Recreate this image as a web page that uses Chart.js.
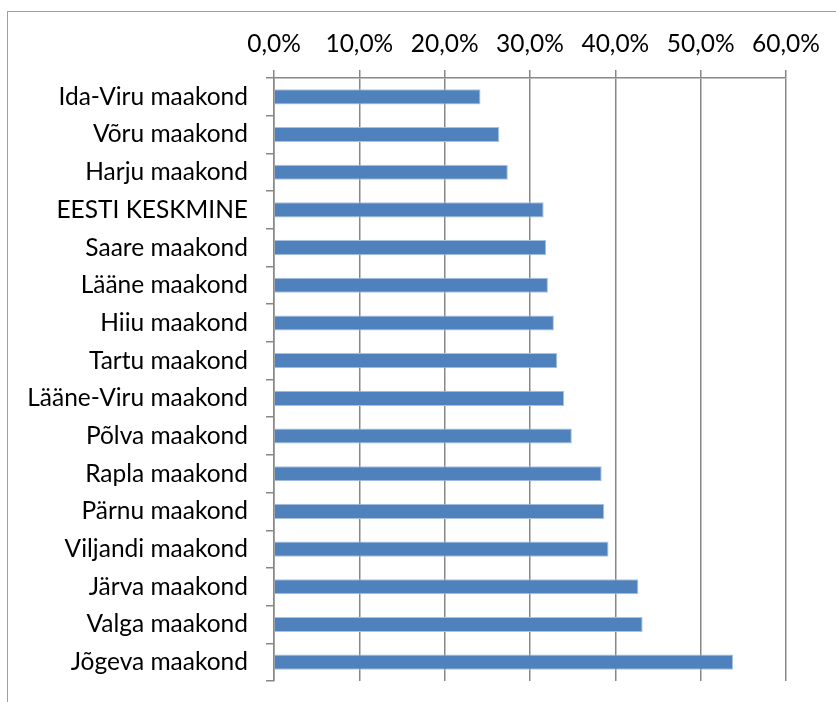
<!DOCTYPE html>
<html>
<head>
<meta charset="utf-8">
<script src="https://cdn.jsdelivr.net/npm/chart.js@4/dist/chart.umd.min.js"></script>
<style>
  html, body { margin: 0; padding: 0; background: #fff; overflow: hidden; }
  #wrap { position: relative; width: 836px; height: 702px; overflow: hidden; }
  #frame { position: absolute; left: 7px; top: 11px; width: 900px; height: 800px; border: 1px solid #a0a0a0; pointer-events: none; }
  canvas { position: absolute; left: 0; top: 0; }
</style>
</head>
<body>
<div id="wrap">
  <canvas id="c" width="836" height="702"></canvas>
  <div id="frame"></div>
</div>
<script>
const categories = [
  "Ida-Viru maakond", "Võru maakond", "Harju maakond", "EESTI KESKMINE",
  "Saare maakond", "Lääne maakond", "Hiiu maakond", "Tartu maakond",
  "Lääne-Viru maakond", "Põlva maakond", "Rapla maakond", "Pärnu maakond",
  "Viljandi maakond", "Järva maakond", "Valga maakond", "Jõgeva maakond"
];
const values = [24.2, 26.4, 27.4, 31.6, 31.9, 32.1, 32.8, 33.2, 34.0, 34.9, 38.4, 38.7, 39.2, 42.7, 43.2, 53.8];
const tickValues = [0, 10, 20, 30, 40, 50, 60];

const FONT = { family: "Lato", size: 24.5 };
const gridColor = "#878787";

new Chart(document.getElementById("c"), {
  type: "bar",
  data: {
    labels: categories,
    datasets: [{
      data: values,
      backgroundColor: "#4F81BD",
      borderColor: "#a9c1e0",
      borderWidth: 1,
      barPercentage: 0.8,
      categoryPercentage: 0.5
    }]
  },
  options: {
    indexAxis: "y",
    responsive: false,
    animation: false,
    layout: { padding: { left: 0, top: 0, right: 50, bottom: 21 } },
    plugins: { legend: { display: false }, tooltip: { enabled: false } },
    scales: {
      x: {
        position: "top",
        min: tickValues[0],
        max: tickValues[tickValues.length - 1],
        afterBuildTicks: (s) => { s.ticks = tickValues.map(v => ({ value: v })); },
        afterFit: (s) => { s.height = 78; s.paddingLeft = 0; s.paddingRight = 0; },
        ticks: {
          color: "#000",
          font: FONT,
          padding: 11,
          maxRotation: 0,
          callback: (v) => v.toFixed(1).replace(".", ",") + "%"
        },
        grid: { color: gridColor, lineWidth: 1.5, tickLength: 8, drawOnChartArea: true },
        border: { display: true, color: gridColor, width: 1.5 }
      },
      y: {
        afterFit: (s) => { s.width = 274; s.paddingTop = 0; s.paddingBottom = 0; },
        ticks: { color: "#000", font: FONT, padding: 18, autoSkip: false },
        grid: { offset: true, drawOnChartArea: false, color: gridColor, lineWidth: 1.5, tickLength: 8 },
        border: { display: true, color: gridColor, width: 1.5 }
      }
    }
  }
});
</script>
</body>
</html>
